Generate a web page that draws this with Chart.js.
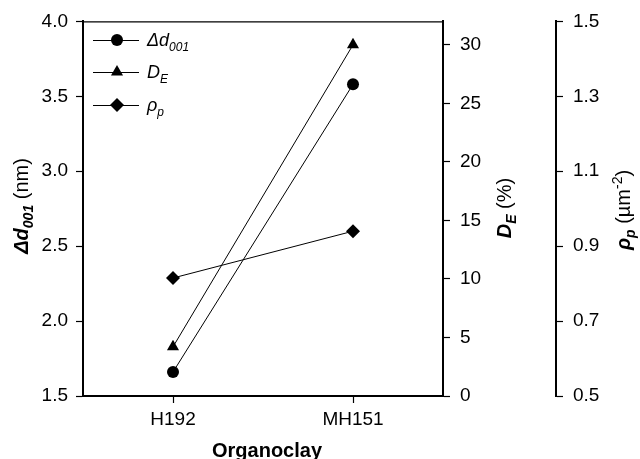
<!DOCTYPE html>
<html>
<head>
<meta charset="utf-8">
<script src="https://cdn.jsdelivr.net/npm/chart.js@4"></script>
<style>
html,body{margin:0;padding:0;background:#fff;}
#wrap{width:640px;height:459px;position:relative;}
</style>
</head>
<body>
<div id="wrap"><canvas id="c" width="640" height="459"></canvas></div>
<script>
// ---- data ----
const categories = ["H192", "MH151"];
const d001Values = [1.66, 3.58];      // Δd001 (nm), left axis
const deValues = [4.2, 30.0];         // DE (%), right axis
const rhoValues = [0.815, 0.94];      // ρp (µm^-2), outer right axis
const d001Ticks = [1.5, 2.0, 2.5, 3.0, 3.5, 4.0];
const deTicks = [0, 5, 10, 15, 20, 25, 30];
const rhoTicks = [0.5, 0.7, 0.9, 1.1, 1.3, 1.5];

const FONT = "'Liberation Sans', Arial, sans-serif";

function drawRich(ctx, parts, cx, cy, rot) {
  ctx.save();
  ctx.translate(cx, cy);
  if (rot) ctx.rotate(rot);
  let total = 0;
  parts.forEach(p => { ctx.font = p.font; p.w = ctx.measureText(p.t).width; total += p.w; });
  let x = -total / 2;
  ctx.fillStyle = '#000';
  ctx.textBaseline = 'alphabetic';
  ctx.textAlign = 'left';
  parts.forEach(p => { ctx.font = p.font; ctx.fillText(p.t, x, p.dy || 0); x += p.w; });
  ctx.restore();
}
function drawRichLeft(ctx, parts, x, y) {
  ctx.save();
  ctx.fillStyle = '#000';
  ctx.textBaseline = 'alphabetic';
  ctx.textAlign = 'left';
  parts.forEach(p => { ctx.font = p.font; ctx.fillText(p.t, x, y + (p.dy || 0)); x += ctx.measureText(p.t).width; });
  ctx.restore();
}

const titlesPlugin = {
  id: 'titles',
  afterDraw(chart) {
    const ctx = chart.ctx;
    const a = chart.chartArea;
    // top frame line
    ctx.save();
    ctx.strokeStyle = '#000';
    ctx.lineWidth = 1.2;
    ctx.beginPath();
    ctx.moveTo(a.left, a.top + 0.5);
    ctx.lineTo(a.right, a.top + 0.5);
    ctx.stroke();
    ctx.restore();

    const bi = "bold italic 20px " + FONT;
    const bis = "bold italic 14px " + FONT;
    const rg = "20px " + FONT;
    const rgs = "14px " + FONT;
    drawRich(ctx, [
      {t: 'Δd', font: bi}, {t: '001', font: bis, dy: 5}, {t: ' (nm)', font: rg}
    ], 28, 206, -Math.PI / 2);
    drawRich(ctx, [
      {t: 'D', font: bi}, {t: 'E', font: bis, dy: 5}, {t: ' (%)', font: rg}
    ], 511, 208, -Math.PI / 2);
    drawRich(ctx, [
      {t: 'ρ', font: bi}, {t: 'p', font: bis, dy: 5}, {t: ' (µm', font: rg}, {t: '-2', font: rgs, dy: -8}, {t: ')', font: rg}
    ], 630, 210, -Math.PI / 2);
    drawRich(ctx, [{t: 'Organoclay', font: "bold 20px " + FONT}], 267, 457, 0);

    // legend
    const it = "italic 18px " + FONT;
    const its = "italic 12px " + FONT;
    const rows = [
      {y: 40, style: 'circle', parts: [{t: 'Δd', font: it}, {t: '001', font: its, dy: 5}]},
      {y: 72, style: 'triangle', parts: [{t: 'D', font: it}, {t: 'E', font: its, dy: 5}]},
      {y: 105, style: 'rectRot', parts: [{t: 'ρ', font: it}, {t: 'p', font: its, dy: 5}]}
    ];
    rows.forEach(r => {
      ctx.save();
      ctx.strokeStyle = '#000';
      ctx.lineWidth = 1;
      ctx.beginPath();
      ctx.moveTo(93, r.y + 0.5);
      ctx.lineTo(139, r.y + 0.5);
      ctx.stroke();
      ctx.fillStyle = '#000';
      Chart.helpers.drawPoint(ctx, {pointStyle: r.style, radius: r.style === 'circle' ? 6 : 7, borderWidth: 0}, 117, r.y);
      ctx.restore();
      drawRichLeft(ctx, r.parts, 147, r.y + 6);
    });
  }
};

const tickFont = {family: FONT, size: 19};
const common = {
  grid: {drawOnChartArea: false, color: '#000', tickLength: 7, tickWidth: 1.2},
  border: {color: '#000', width: 2},
  ticks: {color: '#000', font: tickFont, padding: 8}
};

new Chart(document.getElementById('c'), {
  type: 'line',
  data: {
    labels: categories,
    datasets: [
      {label: 'Δd001', data: d001Values, yAxisID: 'y', pointStyle: 'circle', pointRadius: 6},
      {label: 'DE', data: deValues, yAxisID: 'y2', pointStyle: 'triangle', pointRadius: 7},
      {label: 'ρp', data: rhoValues, yAxisID: 'y3', pointStyle: 'rectRot', pointRadius: 7}
    ].map(ds => Object.assign(ds, {
      borderColor: '#000', backgroundColor: '#000', borderWidth: 1,
      pointBackgroundColor: '#000', pointBorderColor: '#000', pointBorderWidth: 0,
      tension: 0
    }))
  },
  options: {
    responsive: false,
    animation: false,
    devicePixelRatio: 1,
    layout: {padding: {top: 21, left: 0, right: 0, bottom: 0}},
    plugins: {legend: {display: false}, tooltip: {enabled: false}},
    scales: {
      x: {
        type: 'category', offset: true,
        grid: {drawOnChartArea: false, color: '#000', tickLength: 7, tickWidth: 1.2, offset: false},
        border: {color: '#000', width: 2},
        ticks: {color: '#000', font: tickFont, padding: 5, maxRotation: 0},
        afterFit(s) { s.height = 63; }
      },
      y: Object.assign({}, common, {
        position: 'left', min: 1.5, max: 4.0,
        ticks: Object.assign({}, common.ticks, {callback: v => Number(v).toFixed(1)}),
        afterBuildTicks(s) { s.ticks = d001Ticks.map(v => ({value: v})); },
        afterFit(s) { s.width = 83; }
      }),
      y2: Object.assign({}, common, {
        position: 'right', min: 0, max: 32,
        ticks: Object.assign({}, common.ticks, {padding: 10, callback: v => String(v)}),
        afterBuildTicks(s) { s.ticks = deTicks.map(v => ({value: v})); },
        afterFit(s) { s.width = 113; }
      }),
      y3: Object.assign({}, common, {
        position: 'right', min: 0.5, max: 1.5,
        ticks: Object.assign({}, common.ticks, {padding: 10, callback: v => Number(v).toFixed(1)}),
        afterBuildTicks(s) { s.ticks = rhoTicks.map(v => ({value: v})); },
        afterFit(s) { s.width = 84; }
      })
    }
  },
  plugins: [titlesPlugin]
});
</script>
</body>
</html>
